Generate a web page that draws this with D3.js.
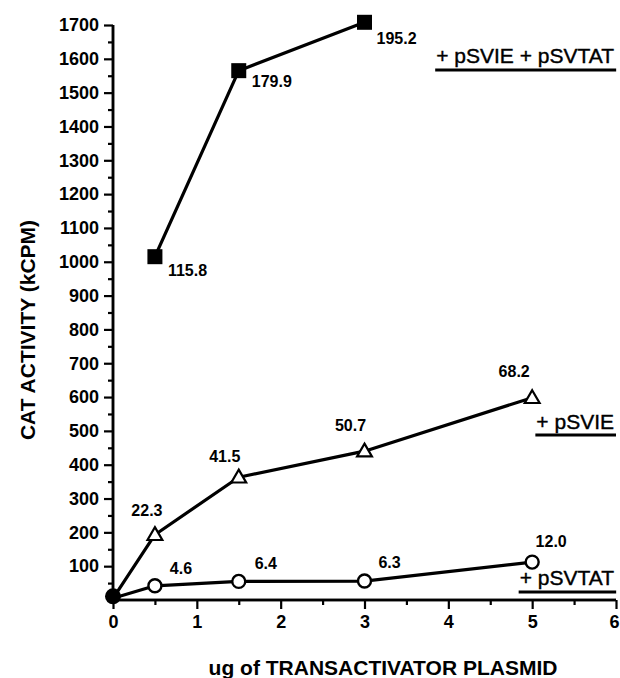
<!DOCTYPE html>
<html><head><meta charset="utf-8">
<script src="https://cdn.jsdelivr.net/npm/d3@7"></script>
<style>body{margin:0;background:#fff}svg{display:block}text{font-family:"Liberation Sans",Arial,Helvetica,sans-serif}</style>
</head><body>
<svg id="c" width="620" height="678"></svg>
<script>
// ---- data ----
const doses = [0.5, 1.5, 3, 5];
const seriesBoth = [1015, 1565, 1708];        // + pSVIE + pSVTAT (x = 0.5,1.5,3)
const labelsBoth = ["115.8", "179.9", "195.2"];
const seriesIE = [193, 363, 440, 598];        // + pSVIE
const labelsIE = ["22.3", "41.5", "50.7", "68.2"];
const seriesTAT = [42, 55, 56, 112];          // + pSVTAT
const labelsTAT = ["4.6", "6.4", "6.3", "12.0"];
const origin = [0, 5];
const yTicks = d3.range(100, 1701, 100);
const xTicks = [0, 1, 2, 3, 4, 5, 6];
const legendNames = ["+ pSVIE + pSVTAT", "+ pSVIE", "+ pSVTAT"];

// label offsets (presentation)
const offBoth = [[13, 19, "start"], [13, 16, "start"], [12, 22, "start"]];
const offIE = [[-8, -19, "middle"], [-14, -15, "middle"], [-14, -20, "middle"], [-18, -21, "middle"]];
const offTAT = [[26, -12, "middle"], [27, -12, "middle"], [25, -13, "middle"], [19, -15, "middle"]];

const svg = d3.select("#c");
const x = d3.scaleLinear().domain([0, 6]).range([113, 616]);
const y = d3.scaleLinear().domain([0, 1700]).range([600, 25]);

// axes
const gy = svg.append("g").attr("transform", `translate(${x(0)},0)`);
gy.call(d3.axisLeft(y).tickValues(d3.range(50, 1700, 100)).tickSize(5).tickFormat("").tickSizeOuter(0));
gy.call(g => g.append("g").call(d3.axisLeft(y).tickValues(yTicks).tickSize(9).tickSizeOuter(0).tickPadding(5).tickFormat(d3.format("d"))));
gy.selectAll("path.domain").attr("stroke-width", 2.5).attr("d", `M0,${y(0)}V${y(1700)}`);
gy.selectAll("line").attr("stroke-width", 2.2);
gy.selectAll("text").attr("font-size", 18).attr("font-weight", "bold").attr("fill", "#000");

const gx = svg.append("g").attr("transform", `translate(0,${y(0)})`);
gx.call(d3.axisBottom(x).tickValues(d3.range(0.5, 6, 1)).tickSize(5).tickFormat("").tickSizeOuter(0));
gx.call(g => g.append("g").call(d3.axisBottom(x).tickValues(xTicks).tickSize(9).tickSizeOuter(0).tickPadding(6).tickFormat(d3.format("d"))));
gx.selectAll("path.domain").attr("stroke-width", 2.5).attr("d", `M${x(0)},0H${x(6)}`);
gx.selectAll("line").attr("stroke-width", 2.2);
gx.selectAll("text").attr("font-size", 18).attr("font-weight", "bold").attr("fill", "#000");
gx.selectAll("text").filter(d => d === 6).attr("dx", "-2");

// titles
svg.append("text").attr("transform", `translate(35,330) rotate(-90)`).attr("text-anchor", "middle")
  .attr("font-size", 21).attr("font-weight", "bold").text("CAT ACTIVITY (kCPM)");
svg.append("text").attr("x", 383).attr("y", 675).attr("text-anchor", "middle")
  .attr("font-size", 21).attr("font-weight", "bold").text("ug of TRANSACTIVATOR PLASMID");

const line = d3.line().x(d => x(d[0])).y(d => y(d[1]));
const lineStyle = p => p.attr("fill", "none").attr("stroke", "#000").attr("stroke-width", 3.2).attr("stroke-linejoin", "round");

const ptsBoth = seriesBoth.map((v, i) => [doses[i], v]);
const ptsIE = [origin].concat(seriesIE.map((v, i) => [doses[i], v]));
const ptsTAT = [origin].concat(seriesTAT.map((v, i) => [doses[i], v]));

svg.append("path").datum(ptsBoth).attr("d", line).call(lineStyle);
svg.append("path").datum(ptsIE).attr("d", line).call(lineStyle);
svg.append("path").datum(ptsTAT).attr("d", line).call(lineStyle);

// markers
svg.selectAll(".sq").data(ptsBoth).enter().append("rect")
  .attr("x", d => x(d[0]) - 7.5).attr("y", d => y(d[1]) - 7.5).attr("width", 15).attr("height", 15).attr("fill", "#000");
const tri = d3.symbol().type(d3.symbolTriangle).size(95);
svg.selectAll(".tri").data(ptsIE.slice(1)).enter().append("path")
  .attr("d", tri).attr("transform", d => `translate(${x(d[0])},${y(d[1]) + 1})`)
  .attr("fill", "#fff").attr("stroke", "#000").attr("stroke-width", 2.2).attr("stroke-linejoin", "miter");
svg.selectAll(".cir").data(ptsTAT.slice(1)).enter().append("circle")
  .attr("cx", d => x(d[0])).attr("cy", d => y(d[1])).attr("r", 6.5)
  .attr("fill", "#fff").attr("stroke", "#000").attr("stroke-width", 2.4);
svg.append("circle").attr("cx", x(origin[0])).attr("cy", y(origin[1]) - 2).attr("r", 8).attr("fill", "#000");

// value labels
function labels(pts, labs, offs) {
  svg.append("g").selectAll("text").data(pts).enter().append("text")
    .attr("x", (d, i) => x(d[0]) + offs[i][0]).attr("y", (d, i) => y(d[1]) + offs[i][1])
    .attr("text-anchor", (d, i) => offs[i][2])
    .attr("font-size", 16).attr("font-weight", "bold").text((d, i) => labs[i]);
}
labels(ptsBoth, labelsBoth, offBoth);
labels(ptsIE.slice(1), labelsIE, offIE);
labels(ptsTAT.slice(1), labelsTAT, offTAT);

// series name labels with underline
const legendPos = [[614, 63, 70], [614, 429, 435], [614, 585, 592]];
legendNames.forEach((name, i) => {
  const t = svg.append("text").attr("x", legendPos[i][0]).attr("y", legendPos[i][1]).attr("text-anchor", "end")
    .attr("font-size", 21).attr("stroke", "#000").attr("stroke-width", 0.4).text(name);
  const bb = t.node().getBBox();
  svg.append("line").attr("x1", bb.x - 1).attr("x2", bb.x + bb.width + 2)
    .attr("y1", legendPos[i][2]).attr("y2", legendPos[i][2]).attr("stroke", "#000").attr("stroke-width", 3);
});
</script>
</body></html>
